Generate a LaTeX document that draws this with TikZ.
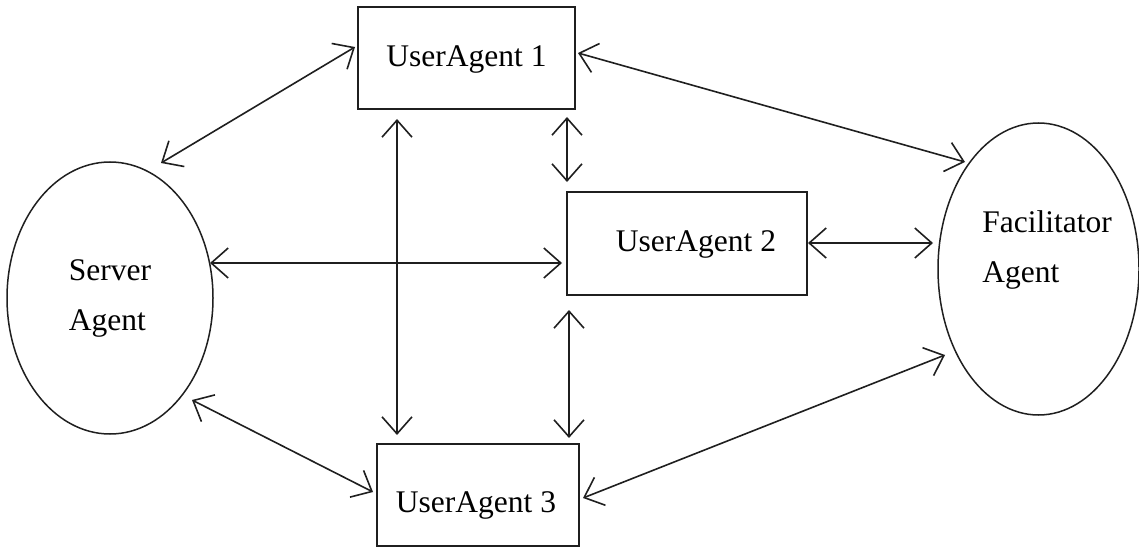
\documentclass[tikz,border=0pt]{standalone}
\usepackage{fontspec}
\setmainfont{Liberation Serif}
\usetikzlibrary{arrows.meta,shapes.geometric}
\tikzset{
  ink/.style={draw=black!88},
  agentbox/.style={ink, rectangle, line width=1.8pt, inner sep=0pt,
    font=\fontsize{31.5}{50}\selectfont},
  agentell/.style={ink, ellipse, line width=1.5pt, inner sep=0pt,
    font=\fontsize{31.5}{50}\selectfont, align=left},
  link/.style={ink, line width=1.6pt,
    {Straight Barb[length=17pt,width=30pt]}-{Straight Barb[length=17pt,width=30pt]}}
}
\begin{document}
\begin{tikzpicture}[x=1pt,y=-1pt]
\useasboundingbox (0,0) rectangle (1139,548);
\node[agentbox, minimum width=217pt, minimum height=102pt, text height=22pt, text depth=4pt] (ua1) at (466.5,58) {UserAgent 1};
\node[agentbox, minimum width=240pt, minimum height=103pt, text height=22pt, text depth=7pt] (ua2) at (687,243.5) {\hspace*{18pt}UserAgent 2};
\node[agentbox, minimum width=202pt, minimum height=102pt, text height=34pt, text depth=0pt] (ua3) at (478,495) {UserAgent 3\hspace*{4pt}};
\node[agentell, minimum width=206pt, minimum height=272pt] (server) at (110,298) {Server\\Agent};
\node[agentell, minimum width=201pt, minimum height=292pt,
  label={[name=factext, align=left, font=\fontsize{31.5}{50}\selectfont, xshift=8.5pt, yshift=19pt]center:Facilitator\\Agent}] (fac) at (1038.5,269) {};
% connectors
\draw[link] ([shift={(51,-135)}]server.center) -- ([shift={(-111.5,-11)}]ua1.center);
\draw[link] ([shift={(111.5,-5)}]ua1.center) -- ([shift={(-73.5,-107)}]fac.center);
\draw[link] ([shift={(100.5,59)}]ua1.center) -- ([shift={(-120,-61.5)}]ua2.center);
\draw[link] ([shift={(-69.5,61)}]ua1.center) -- ([shift={(-81,-60)}]ua3.center);
\draw[link] ([shift={(100,-35)}]server.center) -- ([shift={(-125,19.5)}]ua2.center);
\draw[link] ([shift={(121,-0.5)}]ua2.center) -- ([shift={(-105.5,-26)}]fac.center);
\draw[link] ([shift={(-118,66.5)}]ua2.center) -- ([shift={(91,-57)}]ua3.center);
\draw[link] ([shift={(82,102)}]server.center) -- ([shift={(-105,-3)}]ua3.center);
\draw[link] ([shift={(105,3)}]ua3.center) -- ([shift={(-93.5,86)}]fac.center);
\end{tikzpicture}
\end{document}
